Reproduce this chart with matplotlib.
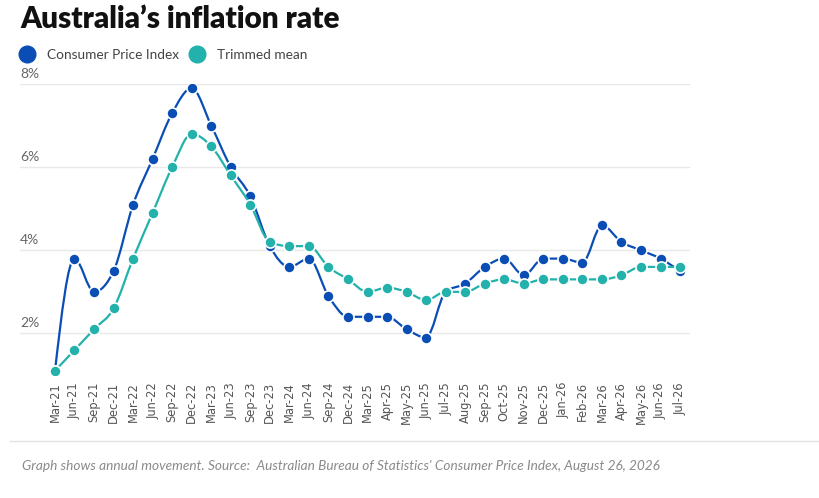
import numpy as np
import matplotlib
matplotlib.use('Agg')
import matplotlib.pyplot as plt
from matplotlib.path import Path
from matplotlib.patches import PathPatch
from matplotlib.lines import Line2D
from matplotlib import transforms

# data
periods = ['Mar-21', 'Jun-21', 'Sep-21', 'Dec-21', 'Mar-22', 'Jun-22', 'Sep-22', 'Dec-22',
           'Mar-23', 'Jun-23', 'Sep-23', 'Dec-23', 'Mar-24', 'Jun-24', 'Sep-24', 'Dec-24',
           'Mar-25', 'Apr-25', 'May-25', 'Jun-25', 'Jul-25', 'Aug-25', 'Sep-25', 'Oct-25',
           'Nov-25', 'Dec-25', 'Jan-26', 'Feb-26', 'Mar-26', 'Apr-26', 'May-26', 'Jun-26',
           'Jul-26']
cpi = [1.1, 3.8, 3.0, 3.5, 5.1, 6.2, 7.3, 7.9,
       7.0, 6.0, 5.3, 4.1, 3.6, 3.8, 2.9, 2.4,
       2.4, 2.4, 2.1, 1.9, 3.0, 3.2, 3.6, 3.8,
       3.4, 3.8, 3.8, 3.7, 4.6, 4.2, 4.0, 3.8,
       3.5]
trimmed = [1.1, 1.6, 2.1, 2.6, 3.8, 4.9, 6.0, 6.8,
           6.5, 5.8, 5.1, 4.2, 4.1, 4.1, 3.6, 3.3,
           3.0, 3.1, 3.0, 2.8, 3.0, 3.0, 3.2, 3.3,
           3.2, 3.3, 3.3, 3.3, 3.3, 3.4, 3.6, 3.6,
           3.6]
yticks = [2, 4, 6, 8]

blue = '#0a4db5'
teal = '#22b1ab'
W, H = 819, 498


def monotone_path(x, y):
    # monotone-x cubic curve (same rule as d3.curveMonotoneX), drawn as bezier segments
    x = np.asarray(x, float)
    y = np.asarray(y, float)
    n = len(x)
    h = np.diff(x)
    s = np.diff(y) / h
    t = np.zeros(n)
    for i in range(1, n - 1):
        p = (s[i - 1] * h[i] + s[i] * h[i - 1]) / (h[i - 1] + h[i])
        t[i] = (np.sign(s[i - 1]) + np.sign(s[i])) * min(abs(s[i - 1]), abs(s[i]), 0.5 * abs(p))
    t[0] = (3 * s[0] - t[1]) / 2
    t[-1] = (3 * s[-1] - t[-2]) / 2
    verts = [(x[0], y[0])]
    codes = [Path.MOVETO]
    for i in range(n - 1):
        dx = h[i] / 3
        verts += [(x[i] + dx, y[i] + dx * t[i]),
                  (x[i + 1] - dx, y[i + 1] - dx * t[i + 1]),
                  (x[i + 1], y[i + 1])]
        codes += [Path.CURVE4] * 3
    return Path(verts, codes)


fig = plt.figure(figsize=(W / 100, H / 100), dpi=100)
ax = fig.add_axes([20 / W, 1 - 375 / H, 670 / W, 291 / H])
xs = np.arange(len(periods))

for vals, col, z in [(cpi, blue, 3), (trimmed, teal, 4)]:
    ax.add_patch(PathPatch(monotone_path(xs, vals), fill=False, edgecolor=col, lw=1.6, zorder=z))
    ax.plot(xs, vals, ls='none', marker='o', ms=8, mfc=col, mec='white', mew=1.2, zorder=z + 0.5)

ax.set_xlim(-1.79, 32.51)
ax.set_ylim(1.0, 8.0)
for sp in ax.spines.values():
    sp.set_visible(False)
ax.set_yticks(yticks)
ax.yaxis.grid(True, color='#e8e8e8', lw=1)
ax.set_axisbelow(True)
ax.tick_params(axis='y', length=0, labelleft=False)
ax.set_xticks(xs)
ax.set_xticklabels(periods, rotation=90, fontsize=8.3, color='#555555', family='DejaVu Sans')
ax.tick_params(axis='x', length=0, pad=5)

# y labels sit above their gridlines at the left edge
off = transforms.offset_copy(ax.get_yaxis_transform(), fig=fig, x=0, y=3, units='points')
for v in yticks:
    ax.text(0, v, f'{v}%', transform=off, ha='left', va='bottom', fontsize=10,
            color='#666666', family='Lato')

fig.text(20 / W, 1 - 5 / H, 'Australia\u2019s inflation rate', fontsize=21.3, fontweight='heavy',
         family='Lato', va='top', ha='left', color='#111111')

handles = [Line2D([], [], ls='none', marker='o', ms=12, mfc=blue, mec=blue),
           Line2D([], [], ls='none', marker='o', ms=12, mfc=teal, mec=teal)]
fig.legend(handles, ['Consumer Price Index', 'Trimmed mean'], loc='center left',
           bbox_to_anchor=(20 / W, 1 - 55 / H), ncol=2, frameon=False,
           prop={'family': 'Lato', 'size': 9.8}, labelcolor='#444444',
           handletextpad=1.0, columnspacing=0.8, handlelength=1.0, borderpad=0, borderaxespad=0)

fig.add_artist(Line2D([10 / W, 1], [1 - 441 / H, 1 - 441 / H], color='#e2e2e2', lw=1))
fig.text(22 / W, 1 - 466 / H,
         "Graph shows annual movement. Source:  Australian Bureau of Statistics' Consumer Price Index, August 26, 2026",
         fontsize=9.8, style='italic', family='Lato', color='#8a8a8a', va='center', ha='left')

fig.savefig('out.png', dpi=100)
